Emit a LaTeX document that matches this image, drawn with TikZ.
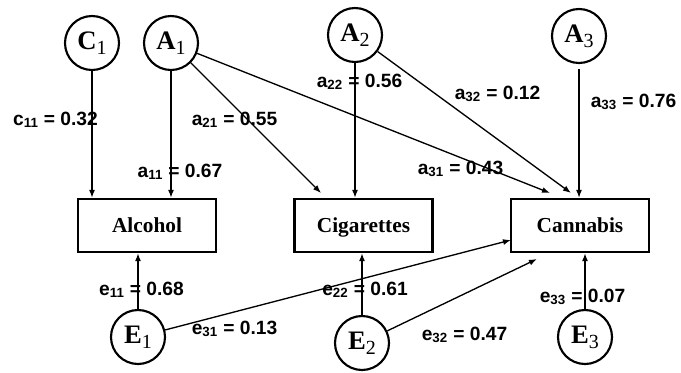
\documentclass[tikz,border=0pt]{standalone}
\usepackage{fontspec}
\setmainfont{Liberation Serif}
\newfontfamily\lblfont{Liberation Sans}
\usetikzlibrary{arrows.meta}
\begin{document}
\begin{tikzpicture}[x=0.75pt,y=-0.75pt,
  latent/.style={circle,draw,line width=1.6pt,minimum size=40.5pt,inner sep=0pt,font=\fontsize{20}{22}\selectfont\bfseries},
  observed/.style={rectangle,draw,line width=1.7pt,minimum width=103.5pt,minimum height=39.75pt,inner sep=0pt,text height=11pt,text depth=0pt,font=\fontsize{16}{18}\selectfont\bfseries},
  coef/.style={anchor=base,inner sep=0pt,font=\lblfont\fontsize{14.4}{16}\selectfont\bfseries},
  path/.style={line width=1pt,-{Latex[length=6pt,width=4.5pt]}},
]
\newcommand{\lsub}[2]{#1\raisebox{-0.4ex}{\mdseries\fontsize{15}{16}\selectfont #2}}
\useasboundingbox (0,0) rectangle (681,372);
% latent factors
\node[latent] (C1) at (92,43) {\lsub{C}{1}};
\node[latent] (A1) at (171,43) {\lsub{A}{1}};
\node[latent] (A2) at (355,35) {\lsub{A}{2}};
\node[latent] (A3) at (579,36) {\lsub{A}{3}};
\node[latent] (E1) at (138,337) {\lsub{E}{1}};
\node[latent] (E2) at (362,343) {\lsub{E}{2}};
\node[latent] (E3) at (585,337) {\lsub{E}{3}};
% observed
\node[observed] (alc) at (147,225.5) {Alcohol};
\node[observed] (cig) at (363.5,225.5) {Cigarettes};
\node[observed] (can) at (580,225.5) {Cannabis};
% coefficient labels
\node[coef] (lc11) at (55.5,125) {c\textsubscript{11} = 0.32};
\node[coef] (la21) at (234.5,125) {a\textsubscript{21} = 0.55};
\node[coef] (la11) at (180,177) {a\textsubscript{11} = 0.67};
\node[coef] (la22) at (359.5,87) {a\textsubscript{22} = 0.56};
\node[coef] (la32) at (497.5,99) {a\textsubscript{32} = 0.12};
\node[coef] (la33) at (633.5,107) {a\textsubscript{33} = 0.76};
\node[coef] (la31) at (460.5,174) {a\textsubscript{31} = 0.43};
\node[coef] (le11) at (141.5,295) {e\textsubscript{11} = 0.68};
\node[coef] (le31) at (234.5,334) {e\textsubscript{31} = 0.13};
\node[coef] (le22) at (365,295) {e\textsubscript{22} = 0.61};
\node[coef] (le32) at (464.5,340) {e\textsubscript{32} = 0.47};
\node[coef] (le33) at (582.5,302) {e\textsubscript{33} = 0.07};
% end points
\coordinate (cigA1) at (321,193);
\coordinate (canA1) at (550,193);
\coordinate (canA2) at (571,193);
\coordinate (canE1) at (511,240);
\coordinate (canE2) at (537,259);
% paths
\draw[path] (C1) -- (C1 |- alc.north);
\draw[path] (A1) -- (A1 |- alc.north);
\draw[path] (A1) -- (cigA1);
\draw[path] (A1) -- (canA1);
\draw[path] (A2) -- (A2 |- cig.north);
\draw[path] (A2) -- (canA2);
\draw[path,shorten <=4pt] (A3) -- (A3 |- can.north);
\draw[path] (E1) -- (E1 |- alc.south);
\draw[path] (E1) -- (canE1);
\draw[path] (E2) -- (E2 |- cig.south);
\draw[path] (E2) -- (canE2);
\draw[path] (E3) -- (E3 |- can.south);
\end{tikzpicture}
\end{document}
